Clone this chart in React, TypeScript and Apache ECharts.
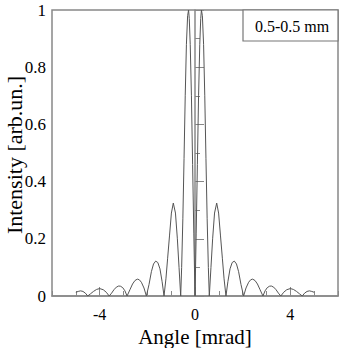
import React, { useEffect, useRef } from "react";
import * as echarts from "echarts";

const angles = [
  -5.0, -4.9, -4.8, -4.7, -4.6, -4.5, -4.38, -4.26, -4.13, -4.0, -3.85, -3.72, -3.6,
  -3.5, -3.4, -3.3, -3.2, -3.12, -3.03, -2.94, -2.85, -2.73, -2.62, -2.52, -2.42,
  -2.34, -2.25, -2.14, -2.04, -1.93, -1.83, -1.74, -1.65, -1.56, -1.47, -1.38, -1.3,
  -1.22, -1.15, -1.07, -0.99, -0.91, -0.82, -0.74, -0.67, -0.6, -0.56, -0.51, -0.46,
  -0.41, -0.36, -0.31, -0.27, -0.24, -0.2, -0.15, -0.1, -0.05, 0,
  0.05, 0.1, 0.15, 0.2, 0.24, 0.27, 0.31, 0.36, 0.41, 0.46, 0.51, 0.56, 0.6,
  0.67, 0.74, 0.82, 0.91, 0.99, 1.07, 1.15, 1.22, 1.3, 1.38, 1.47, 1.56, 1.65,
  1.74, 1.83, 1.93, 2.04, 2.14, 2.25, 2.34, 2.42, 2.52, 2.62, 2.73, 2.85, 2.94,
  3.03, 3.12, 3.2, 3.3, 3.4, 3.5, 3.6, 3.72, 3.85, 4.0, 4.13, 4.26, 4.38, 4.5,
  4.6, 4.7, 4.8, 4.9, 5.0,
];

const intensity = [
  0.013, 0.016, 0.018, 0.016, 0.01, 0, 0.008, 0.016, 0.023, 0.026, 0.022, 0.013, 0,
  0.01, 0.022, 0.031, 0.035, 0.034, 0.029, 0.018, 0, 0.022, 0.042, 0.054, 0.059,
  0.057, 0.048, 0.028, 0, 0.04, 0.085, 0.112, 0.122, 0.117, 0.095, 0.05, 0,
  0.06, 0.13, 0.21, 0.29, 0.325, 0.29, 0.2, 0.1, 0, 0.1, 0.27, 0.48,
  0.7, 0.88, 0.98, 1, 0.97, 0.88, 0.7, 0.46, 0.22, 0,
  0.22, 0.46, 0.7, 0.88, 0.97, 1, 0.98, 0.88, 0.7, 0.48, 0.27, 0.1, 0,
  0.1, 0.2, 0.29, 0.325, 0.29, 0.21, 0.13, 0.06, 0, 0.05, 0.095, 0.117, 0.122,
  0.112, 0.085, 0.04, 0, 0.028, 0.048, 0.057, 0.059, 0.054, 0.042, 0.022, 0, 0.018,
  0.029, 0.034, 0.035, 0.031, 0.022, 0.01, 0, 0.013, 0.022, 0.026, 0.023, 0.016, 0.008, 0,
  0.01, 0.016, 0.018, 0.016, 0.013,
];

const xMajorTicks = [-4, 0, 4];
const legendText = "0.5-0.5 mm";
const xTitle = "Angle [mrad]";
const yTitle = "Intensity [arb.un.]";

const FONT = "Liberation Serif";
const AXIS_COLOR = "#888";

export default function App() {
  const ref = useRef<HTMLDivElement>(null);

  useEffect(() => {
    if (!ref.current) return;
    const chart = echarts.init(ref.current, null, { renderer: "svg" });
    const data = angles.map((a, i) => [a, intensity[i]]);
    chart.setOption({
      animation: false,
      textStyle: { fontFamily: FONT },
      grid: {
        left: 52,
        top: 10,
        right: 5,
        bottom: 52,
        show: true,
        borderColor: AXIS_COLOR,
        borderWidth: 1.5,
        backgroundColor: "transparent",
      },
      xAxis: [
        {
          type: "value",
          min: -6,
          max: 6,
          interval: 1,
          axisLine: { show: true, lineStyle: { color: AXIS_COLOR, width: 1.5 } },
          axisTick: { show: true, inside: true, length: 5, lineStyle: { color: AXIS_COLOR } },
          axisLabel: { show: false },
          splitLine: { show: false },
        },
        {
          type: "value",
          min: -6,
          max: 6,
          position: "bottom",
          axisLine: { show: false },
          axisTick: {
            show: true,
            inside: true,
            length: 9,
            customValues: xMajorTicks,
            lineStyle: { color: AXIS_COLOR },
          },
          axisLabel: {
            show: true,
            customValues: xMajorTicks,
            margin: 10,
            color: "#000",
            fontSize: 16,
            fontFamily: FONT,
          },
          splitLine: { show: false },
        },
      ],
      yAxis: {
        type: "value",
        min: 0,
        max: 1,
        interval: 0.2,
        axisLine: { show: true, lineStyle: { color: AXIS_COLOR, width: 1.5 } },
        axisTick: { show: true, inside: true, length: 9, lineStyle: { color: AXIS_COLOR } },
        minorTick: { show: true, splitNumber: 2, length: 5, lineStyle: { color: AXIS_COLOR } },
        axisLabel: { margin: 6, color: "#000", fontSize: 17, fontFamily: FONT },
        splitLine: { show: false },
        minorSplitLine: { show: false },
      },
      series: [
        {
          type: "line",
          xAxisIndex: 0,
          data,
          showSymbol: false,
          symbol: "none",
          lineStyle: { color: "#555", width: 1 },
          clip: true,
        },
      ],
      graphic: [
        {
          type: "rect",
          shape: { x: 243, y: 10, width: 95, height: 31 },
          style: { fill: "#fff", stroke: "#777", lineWidth: 1.2 },
          z: 100,
        },
        {
          type: "text",
          x: 292,
          y: 26,
          style: {
            text: legendText,
            fontFamily: FONT,
            fontSize: 16,
            fill: "#000",
            align: "center",
            verticalAlign: "middle",
          },
          z: 101,
        },
        {
          type: "text",
          x: 195,
          y: 337,
          style: {
            text: xTitle,
            fontFamily: FONT,
            fontSize: 21,
            fill: "#000",
            align: "center",
            verticalAlign: "middle",
          },
        },
        {
          type: "text",
          x: 14,
          y: 155,
          rotation: Math.PI / 2,
          style: {
            text: yTitle,
            fontFamily: FONT,
            fontSize: 22,
            fill: "#000",
            align: "center",
            verticalAlign: "middle",
          },
        },
      ],
    });
    return () => chart.dispose();
  }, []);

  return <div ref={ref} style={{ width: 343, height: 348, position: "absolute", left: 0, top: 0 }} />;
}
